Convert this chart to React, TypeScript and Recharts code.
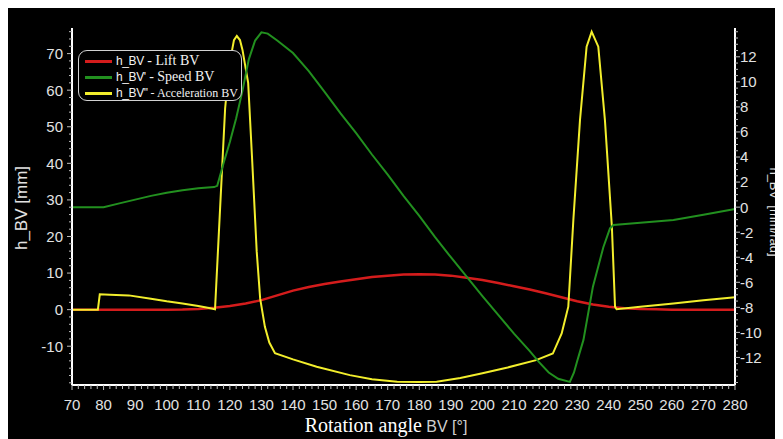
import React from 'react';
import { LineChart, Line, XAxis, YAxis } from 'recharts';

// ---- Data ----
const liftAngles = [70, 80, 90, 100, 105, 110, 115, 120, 125, 130, 135, 140, 145, 150, 155, 160, 165, 170, 175, 180, 185, 190, 195, 200, 205, 210, 215, 220, 225, 230, 235, 240, 245, 250, 255, 260, 270, 280];
const liftValues = [0, 0, 0, 0, 0.05, 0.2, 0.5, 1.0, 1.7, 2.6, 3.9, 5.2, 6.2, 7.0, 7.7, 8.3, 8.9, 9.3, 9.6, 9.7, 9.6, 9.3, 8.7, 8.1, 7.3, 6.4, 5.5, 4.5, 3.4, 2.3, 1.4, 0.8, 0.4, 0.2, 0.1, 0, 0, 0];

const speedAngles = [70, 80, 85, 90, 95, 100, 105, 110, 115, 116, 118, 120, 122, 124, 126, 128, 130, 132, 135, 140, 145, 150, 155, 160, 165, 170, 175, 180, 185, 190, 195, 200, 205, 210, 215, 218, 221, 224, 227.7, 229, 230, 232, 235, 238.3, 240.4, 241.5, 250, 260.5, 270, 280];
const speedValues = [0, 0, 0.3, 0.6, 0.9, 1.15, 1.35, 1.5, 1.6, 1.7, 3.5, 5.2, 7.1, 9.3, 11.8, 13.3, 13.95, 13.85, 13.3, 12.3, 10.85, 9.2, 7.5, 5.9, 4.2, 2.6, 0.9, -0.7, -2.4, -4.0, -5.55, -7.1, -8.6, -10.1, -11.5, -12.4, -13.2, -13.7, -13.95, -13.2, -12.3, -10.6, -6.35, -3.2, -1.7, -1.43, -1.25, -1.03, -0.6, -0.15];

const accAngles = [70, 78.2, 78.8, 82, 88, 95, 100, 105, 110, 113, 115.3, 118.5, 119.5, 120.5, 121.3, 122.2, 123.2, 124, 125.8, 127, 128.5, 129.6, 131.1, 132.5, 134.3, 140, 147.5, 158, 165, 173, 180, 185.5, 193, 200, 208, 217, 222.3, 225.1, 227.2, 228.8, 230.9, 233, 234.6, 236.7, 238.8, 241, 242, 242.5, 250, 260.5, 270, 280];
const accValues = [0, 0, 4.2, 4.1, 3.9, 3.0, 2.3, 1.7, 1.0, 0.5, 0.1, 55, 64, 70, 73.7, 74.8, 73.7, 71, 62, 42, 16, 3, -4.7, -9, -11.9, -13.6, -15.6, -17.9, -19, -19.7, -19.8, -19.7, -18.7, -17.4, -15.8, -13.8, -12.0, -6.5, 0.8, 24.5, 51.8, 71.9, 76, 71.9, 51.8, 22.7, 0.8, 0.1, 0.8, 1.7, 2.6, 3.4];

const xMajorTicks = [70, 80, 90, 100, 110, 120, 130, 140, 150, 160, 170, 180, 190, 200, 210, 220, 230, 240, 250, 260, 270, 280];
const leftMajorTicks = [-10, 0, 10, 20, 30, 40, 50, 60, 70];
const rightMajorTicks = [-12, -10, -8, -6, -4, -2, 0, 2, 4, 6, 8, 10, 12];

const seriesNames = ['h_BV', "h_BV'", "h_BV''"];
const seriesDescriptions = [' - Lift BV', ' - Speed BV', ' - Acceleration BV'];
const seriesColors = ['#d41c1c', '#22901f', '#f2ee2c'];

// ---- helpers ----
const toPoints = (xs: number[], ys: number[]) => xs.map((x, i) => ({ x, y: ys[i] }));
const liftData = toPoints(liftAngles, liftValues);
const speedData = toPoints(speedAngles, speedValues);
const accData = toPoints(accAngles, accValues);

const minorStep = (from: number, to: number, step: number) => {
  const out: number[] = [];
  for (let v = from; v <= to + 1e-9; v += step) out.push(Math.round(v * 100) / 100);
  return out;
};
const xTicks = minorStep(70, 280, 2);
const leftTicks = minorStep(-20, 76, 2);
const rightTicks = minorStep(-14, 14, 0.5);

const SANS = 'Liberation Sans, Arial, sans-serif';
const SERIF = 'Liberation Serif, Times New Roman, serif';
const TICK_COLOR = '#bdbdbd';
const LABEL_COLOR = '#e2e2e2';

const XTick = (props: any) => {
  const { x, y, payload } = props;
  const v = payload.value;
  const major = xMajorTicks.includes(v);
  return (
    <g>
      <line x1={x} x2={x} y1={y} y2={y + (major ? 5 : 4)} stroke={TICK_COLOR} strokeWidth={1} />
      {major && (
        <text x={x} y={y + 25} textAnchor="middle" fill={LABEL_COLOR} fontSize={15} fontFamily={SANS}>
          {v}
        </text>
      )}
    </g>
  );
};

const LeftTick = (props: any) => {
  const { x, y, payload } = props;
  const v = payload.value;
  const major = leftMajorTicks.includes(v);
  return (
    <g>
      <line x1={x} x2={x - (major ? 5 : 3)} y1={y} y2={y} stroke={TICK_COLOR} strokeWidth={1} />
      {major && (
        <text x={x - 9} y={y + 5.4} textAnchor="end" fill={LABEL_COLOR} fontSize={15} fontFamily={SANS}>
          {v}
        </text>
      )}
    </g>
  );
};

const RightTick = (props: any) => {
  const { x, y, payload } = props;
  const v = payload.value;
  const major = rightMajorTicks.includes(v);
  return (
    <g>
      <line x1={x} x2={x + (major ? 5 : 3)} y1={y} y2={y} stroke={TICK_COLOR} strokeWidth={1} />
      {major && (
        <text x={x + 5} y={y + 5.4} textAnchor="start" fill={LABEL_COLOR} fontSize={15} fontFamily={SANS}>
          {v}
        </text>
      )}
    </g>
  );
};

const XTitle = () => (
  <text x={378} y={424} textAnchor="middle">
    <tspan fontFamily={SERIF} fontSize={20} fill="#ffffff">Rotation angle</tspan>
    <tspan fontFamily={SANS} fontSize={16} fill="#cfcfcf"> BV [°]</tspan>
  </text>
);

const LeftTitle = () => (
  <text x={13} y={200} transform="rotate(-90 13 200)" textAnchor="middle" dominantBaseline="central" fontFamily={SANS} fontSize={17} fill={LABEL_COLOR}>
    h_BV [mm]
  </text>
);

const RightTitle = () => (
  <text x={766} y={204} transform="rotate(90 766 204)" textAnchor="middle" dominantBaseline="central" fontFamily={SANS} fontSize={13} fill={LABEL_COLOR}>
    h_BV' [mm/rad]
  </text>
);

const rowTops = [10, 26, 42];
const descSizes = [14, 14, 12];

const LegendBox = () => (
  <div
    style={{
      position: 'absolute',
      left: 70,
      top: 42,
      width: 164,
      height: 51,
      boxSizing: 'border-box',
      border: '1.5px solid #d2d2d2',
      borderRadius: 9,
      background: '#000',
    }}
  >
    {seriesNames.map((name, i) => (
      <div
        key={name}
        style={{
          position: 'absolute',
          left: 6,
          top: rowTops[i] - 9,
          height: 18,
          display: 'flex',
          alignItems: 'center',
          whiteSpace: 'nowrap',
          color: '#f2f2f2',
        }}
      >
        <div style={{ width: 27, height: 3, background: seriesColors[i], marginRight: 4 }} />
        <span style={{ fontFamily: SANS, fontSize: 12, letterSpacing: -0.4 }}>{name}</span>
        <span style={{ fontFamily: SERIF, fontSize: descSizes[i], whiteSpace: 'pre' }}>{seriesDescriptions[i]}</span>
      </div>
    ))}
  </div>
);

export default function App() {
  return (
    <div style={{ position: 'relative', width: 776, height: 432, background: '#000' }}>
      <LineChart width={776} height={432} margin={{ top: 20, right: 0, bottom: 0, left: 0 }}>
        <XAxis
          dataKey="x"
          type="number"
          domain={[70, 280]}
          ticks={xTicks}
          interval={0}
          tick={<XTick />}
          tickLine={false}
          tickSize={0}
          tickMargin={0}
          height={55}
          axisLine={{ stroke: '#ffffff', strokeWidth: 2 }}
          label={<XTitle />}
        />
        <YAxis
          yAxisId="left"
          orientation="left"
          type="number"
          domain={[-20.6, 77]}
          allowDataOverflow
          ticks={leftTicks}
          interval={0}
          tick={<LeftTick />}
          tickLine={false}
          tickSize={0}
          tickMargin={0}
          width={64}
          axisLine={{ stroke: '#ffffff', strokeWidth: 2 }}
          label={<LeftTitle />}
        />
        <YAxis
          yAxisId="right"
          orientation="right"
          type="number"
          domain={[-14.2, 14.3]}
          allowDataOverflow
          ticks={rightTicks}
          interval={0}
          tick={<RightTick />}
          tickLine={false}
          tickSize={0}
          tickMargin={0}
          width={49}
          axisLine={{ stroke: '#ffffff', strokeWidth: 2 }}
          label={<RightTitle />}
        />
        <Line yAxisId="left" data={liftData} dataKey="y" type="linear" stroke={seriesColors[0]} strokeWidth={2.5} dot={false} isAnimationActive={false} />
        <Line yAxisId="left" data={accData} dataKey="y" type="linear" stroke={seriesColors[2]} strokeWidth={2} dot={false} isAnimationActive={false} />
        <Line yAxisId="right" data={speedData} dataKey="y" type="linear" stroke={seriesColors[1]} strokeWidth={2} dot={false} isAnimationActive={false} />
      </LineChart>
      <LegendBox />
    </div>
  );
}
